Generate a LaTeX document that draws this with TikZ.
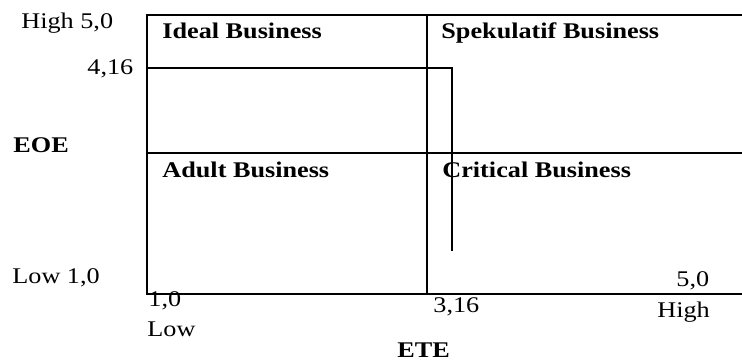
\documentclass[tikz,border=0pt]{standalone}
\usepackage{fontspec}
\setmainfont{Liberation Serif}[FakeStretch=1.17]
\usetikzlibrary{calc}

\begin{document}
\begin{tikzpicture}[x=1pt, y=-1pt, thick,
        lbl/.style = {anchor=base west, inner sep=0pt, font=\fontsize{22.4}{24}\selectfont},
        quad/.style = {lbl, font=\fontsize{22.4}{24}\selectfont\bfseries},
        frame/.style = {line width=2.3pt},
        cut/.style = {line width=1.5pt}]
        \useasboundingbox (0,0) rectangle (742,363);
        % corners of the matrix
        \coordinate (tl) at (147,15);
        \coordinate (tr) at (742,15);
        \coordinate (ml) at (147,153);
        \coordinate (mr) at (742,153);
        \coordinate (bl) at (147,294);
        \coordinate (br) at (742,294);
        \coordinate (tm) at (427,15);
        \coordinate (bm) at (427,294);
        \coordinate (c1) at (147,68);
        \coordinate (c2) at (452,251);
        \draw[frame] (tr) -- (tl) -- (bl) -- (br);
        \draw[frame] (ml) -- (mr);
        \draw[frame] (tm) -- (bm);
        \draw[cut] (c1) -| (c2);
        % quadrants
        \node[quad] (ideal) at (162,39) {Ideal Business};
        \node[quad] (spek) at (441,39) {Spekulatif Business};
        \node[quad] (adult) at (162,178) {Adult Business};
        \node[quad] (crit) at (442,178) {Critical Business};
        % vertical axis
        \node[lbl] (yhigh) at (21,29) {High 5,0};
        \node[lbl] (ycut) at (87,75) {4,16};
        \node[quad] (eoe) at (13,153) {EOE};
        \node[lbl] (ylow) at (12,284) {Low 1,0};
        % horizontal axis
        \node[lbl] (xmin) at (148,307) {1,0};
        \node[lbl] (xlow) at (147,337) {Low};
        \node[lbl] (xcut) at (433,313) {3,16};
        \node[lbl] (xmax) at (676,287) {5,0};
        \node[lbl] (xhigh) at (657,318) {High};
        \node[quad] (ete) at (397,358) {ETE};
\end{tikzpicture}
\end{document}
